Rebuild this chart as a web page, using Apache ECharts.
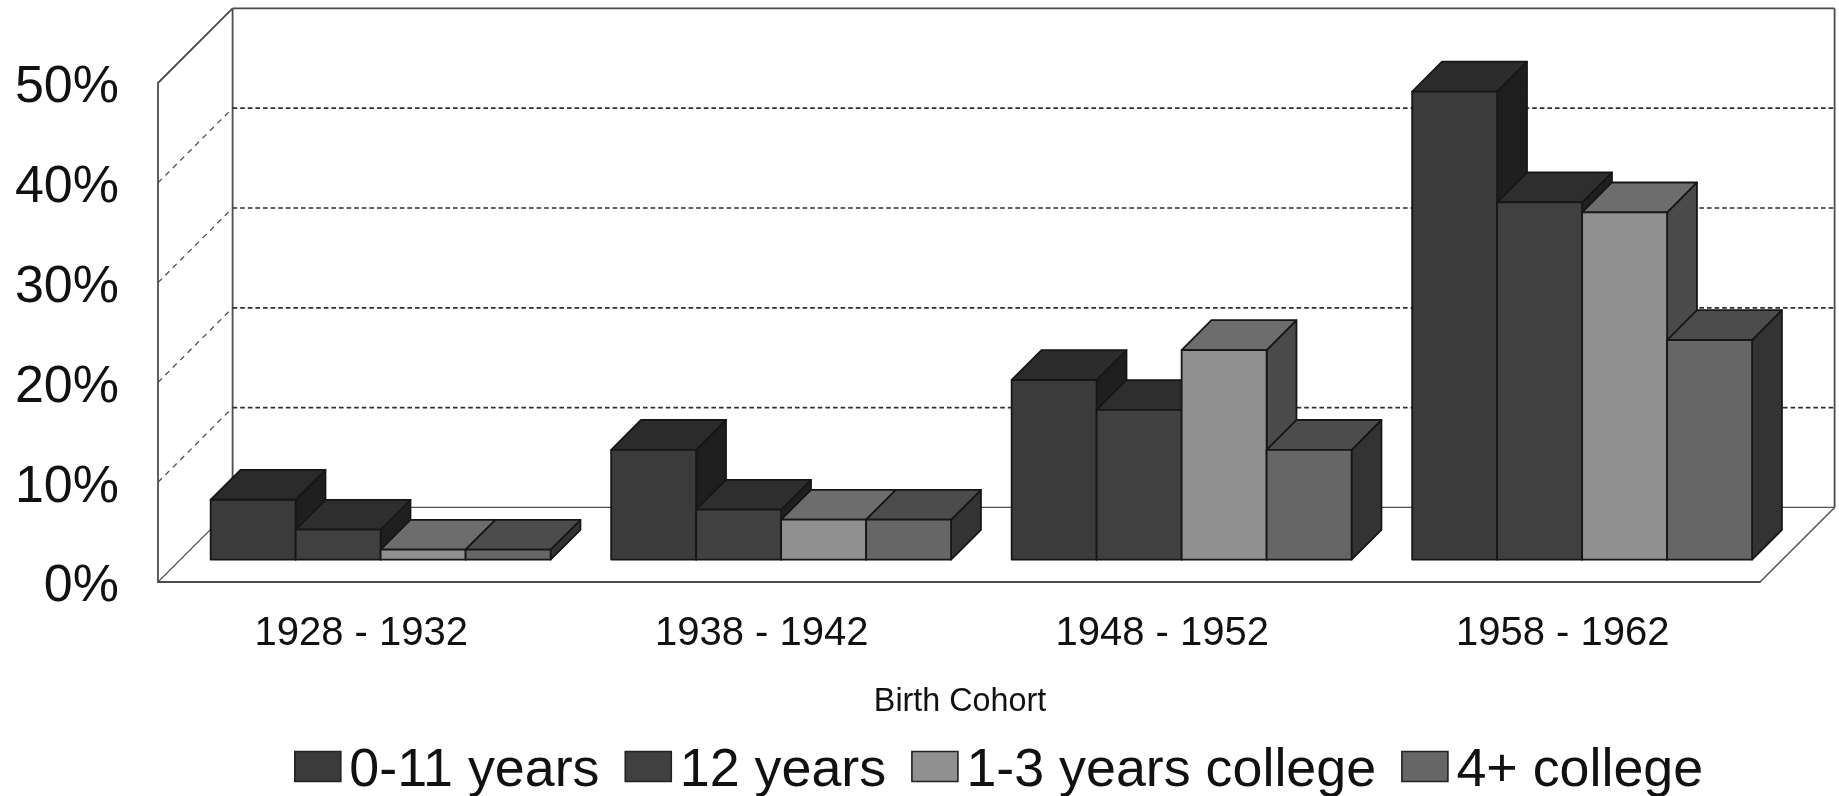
<!DOCTYPE html>
<html>
<head>
<meta charset="utf-8">
<style>html,body{margin:0;padding:0;background:#fff}#chart{width:1839px;height:796px}</style>
<script src="https://cdn.jsdelivr.net/npm/echarts@6/dist/echarts.min.js"></script>
</head>
<body>
<div id="chart"></div>
<script>
var categories = ['1928 - 1932', '1938 - 1942', '1948 - 1952', '1958 - 1962'];
var seriesNames = ['0-11 years', '12 years', '1-3 years college', '4+ college'];
var years0to11 = [6, 11, 18, 46.9];
var years12 = [3, 5, 15, 35.8];
var college1to3 = [1, 4, 21, 34.8];
var college4plus = [1, 4, 11, 22];
var yTicks = [0, 10, 20, 30, 40, 50];

var frontColors = ['#3b3b3b', '#404040', '#909090', '#666666'];
var topColors = ['#2b2b2b', '#2e2e2e', '#6d6d6d', '#4c4c4c'];
var sideColors = ['#1e1e1e', '#1f1f1f', '#4a4a4a', '#333333'];

var DEPTH = 74.6, FRONT_GAP = 0.3, BAR_DEPTH = 0.4, BAR_RATIO = 0.2122;
var LINE = '#4d4d4d', EDGE = '#161616';

function line(x1, y1, x2, y2, extra) {
  return {
    type: 'line', shape: {x1: x1, y1: y1, x2: x2, y2: y2},
    style: Object.assign({stroke: LINE, lineWidth: 1.8, fill: null}, extra || {})
  };
}

function renderFrame(params, api) {
  var c = params.coordSys;
  var L = c.x, R = c.x + c.width;
  var y0 = api.coord([0, 0])[1], yTop = api.coord([0, 50])[1];
  var kids = [
    line(L, yTop, L + DEPTH, yTop - DEPTH),
    line(L + DEPTH, yTop - DEPTH, L + DEPTH, y0 - DEPTH),
    line(L + DEPTH, yTop - DEPTH, R + DEPTH, yTop - DEPTH),
    line(R + DEPTH, yTop - DEPTH, R + DEPTH, y0 - DEPTH),
    line(L + DEPTH, y0 - DEPTH, R + DEPTH, y0 - DEPTH, {lineWidth: 1.4}),
    line(L, y0, L + DEPTH, y0 - DEPTH, {lineWidth: 1.1}),
    line(R, y0, R + DEPTH, y0 - DEPTH, {lineWidth: 1.4})
  ];
  yTicks.forEach(function (t) {
    if (t === 0 || t === 50) return;
    var y = api.coord([0, t])[1];
    kids.push(line(L + DEPTH, y - DEPTH, R + DEPTH, y - DEPTH, {stroke: '#2e2e2e', lineWidth: 1.7, lineDash: [4.6, 3]}));
    kids.push(line(L, y, L + DEPTH, y - DEPTH, {stroke: '#4f4f4f', lineWidth: 1.3, lineDash: [5.5, 5]}));
  });
  return {type: 'group', children: kids};
}

function makeBarRenderer(i) {
  return function (params, api) {
    var cat = api.value(0), val = api.value(1);
    var base = api.coord([cat, 0]), top = api.coord([cat, val]);
    var band = api.size([1, 0])[0];
    var w = band * BAR_RATIO;
    var off = DEPTH * FRONT_GAP, d = DEPTH * BAR_DEPTH;
    var x = base[0] + (i - 2) * w + off;
    var yb = base[1] - off, yt = top[1] - off;
    var edge = {stroke: EDGE, lineWidth: 1.8, lineJoin: 'round'};
    function poly(points, fill) {
      return {type: 'polygon', shape: {points: points}, style: Object.assign({fill: fill}, edge)};
    }
    return {
      type: 'group',
      children: [
        poly([[x + w, yt], [x + w + d, yt - d], [x + w + d, yb - d], [x + w, yb]], sideColors[i]),
        poly([[x, yt], [x + d, yt - d], [x + w + d, yt - d], [x + w, yt]], topColors[i]),
        poly([[x, yt], [x + w, yt], [x + w, yb], [x, yb]], frontColors[i])
      ]
    };
  };
}

var valueArrays = [years0to11, years12, college1to3, college4plus];
var series = [{
  type: 'custom', name: 'frame', silent: true, clip: false, z: 1,
  renderItem: renderFrame, data: [[0, 0]], encode: {x: 0, y: 1}
}];
valueArrays.forEach(function (vals, i) {
  series.push({
    type: 'custom', name: seriesNames[i], clip: false, z: 2 + i,
    renderItem: makeBarRenderer(i),
    itemStyle: {color: frontColors[i]},
    encode: {x: 0, y: 1},
    data: vals.map(function (v, k) { return [k, v]; })
  });
});

var FONT = '"Liberation Sans", Arial, sans-serif';
var chart = echarts.init(document.getElementById('chart'), null, {renderer: 'canvas'});
chart.setOption({
  animation: false,
  backgroundColor: '#ffffff',
  grid: {left: 158, right: 79, top: 83, bottom: 214, containLabel: false},
  xAxis: {
    type: 'category', data: categories,
    axisLine: {show: true, lineStyle: {color: LINE, width: 1.8}},
    axisTick: {show: false},
    axisLabel: {color: '#111111', fontFamily: FONT, fontSize: 40, margin: 32, padding: [0, 0, 0, 6]},
    name: 'Birth Cohort', nameLocation: 'middle', nameGap: 104,
    nameTextStyle: {color: '#111111', fontFamily: FONT, fontSize: 32.3, padding: [0, 0, 0, 2]}
  },
  yAxis: {
    type: 'value', min: 0, max: 50, interval: 10,
    splitLine: {show: false},
    axisLine: {show: true, lineStyle: {color: LINE, width: 1.8}},
    axisTick: {show: false},
    axisLabel: {
      color: '#111111', fontFamily: FONT, fontSize: 52, margin: 39,
      formatter: '{a|{value}%}',
      rich: {a: {color: '#111111', fontFamily: FONT, fontSize: 52, padding: [10, 0, 0, 0]}}
    }
  },
  legend: {
    data: seriesNames, left: 294, top: 744, orient: 'horizontal',
    icon: 'rect', itemWidth: 46, itemHeight: 30, itemGap: 25,
    padding: 0,
    itemStyle: {borderColor: '#222222', borderWidth: 1.6},
    formatter: '{a|{name}}',
    textStyle: {
      color: '#111111', fontFamily: FONT, fontSize: 53.8,
      rich: {a: {color: '#111111', fontFamily: FONT, fontSize: 53.8, padding: [9, 0, 0, 3.5]}}
    },
    selectedMode: false
  },
  series: series
});
</script>
</body>
</html>
